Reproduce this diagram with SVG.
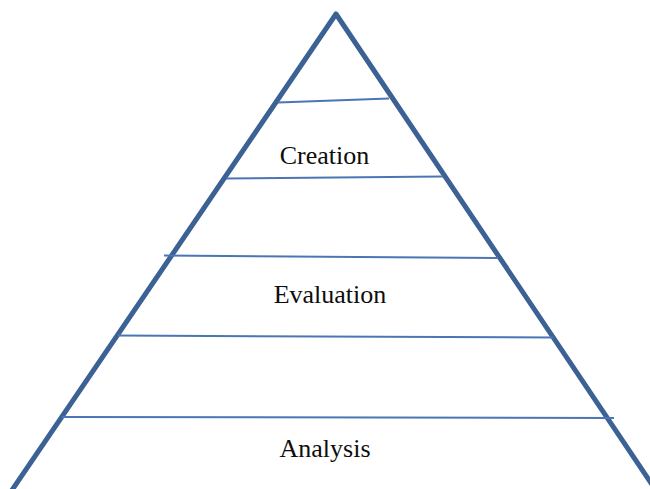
<svg xmlns="http://www.w3.org/2000/svg" width="650" height="489" viewBox="0 0 650 489">
  <style>
    .outline { fill: none; stroke: #3c6194; stroke-width: 5; stroke-linejoin: round; stroke-linecap: butt; }
    .tier { stroke: #4a76b4; stroke-width: 2; fill: none; }
    .label { font-family: "Liberation Serif", "Times New Roman", serif; font-size: 26px; fill: #0d0d0d; text-anchor: middle; }
  </style>
  <rect width="650" height="489" fill="#ffffff"/>
  <g id="pyramid">
    <path class="outline" d="M10,493 L336,14 L657,492"/>
  </g>
  <g id="dividers">
    <line class="tier" x1="278" y1="102.5" x2="389" y2="98.5"/>
    <line class="tier" x1="226" y1="178.5" x2="443" y2="176.5"/>
    <line class="tier" x1="164" y1="255.5" x2="498" y2="258"/>
    <line class="tier" x1="118" y1="335.5" x2="553" y2="337.5"/>
    <line class="tier" x1="62" y1="417" x2="614" y2="418"/>
  </g>
  <g id="creation">
    <text class="label" x="324.5" y="164">Creation</text>
  </g>
  <g id="evaluation">
    <text class="label" x="330" y="303">Evaluation</text>
  </g>
  <g id="analysis">
    <text class="label" x="325" y="457">Analysis</text>
  </g>
</svg>
